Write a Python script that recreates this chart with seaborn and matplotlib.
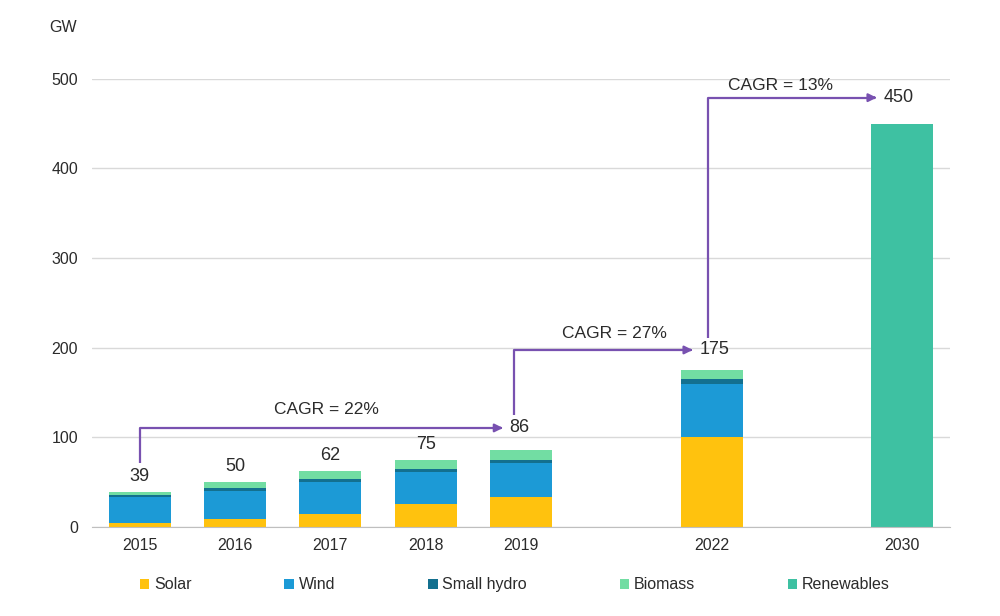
import pandas as pd
import matplotlib.pyplot as plt
import seaborn as sns

# Installed capacity, GW
years = ["2015", "2016", "2017", "2018", "2019", "2022"]
solar = [4, 9, 15, 26, 34, 100]
wind = [29, 31, 35, 35, 37, 60]
small_hydro = [3, 4, 4, 4, 4, 5]
biomass = [3, 6, 8, 10, 11, 10]
totals = [39, 50, 62, 75, 86, 175]
target_year = "2030"
target_value = 450
cagr_labels = ["CAGR = 22%", "CAGR = 27%", "CAGR = 13%"]

order = ["2015", "2016", "2017", "2018", "2019", "gap1", "2022", "gap2", "2030"]

sns.set_style("white")
plt.rcParams["font.family"] = ["Liberation Sans", "DejaVu Sans"]
text_col = "#2b2b2b"

df = pd.DataFrame({"year": years, "solar": solar, "wind": wind,
                   "hydro": small_hydro, "biomass": biomass})
df["c_solar"] = df["solar"]
df["c_wind"] = df["c_solar"] + df["wind"]
df["c_hydro"] = df["c_wind"] + df["hydro"]
df["c_bio"] = df["c_hydro"] + df["biomass"]
target_df = pd.DataFrame({"year": [target_year], "value": [target_value]})

colors = {"Solar": "#FFC20E", "Wind": "#1C9AD6", "Small hydro": "#13708F",
          "Biomass": "#72DDA3", "Renewables": "#3EC1A2"}

fig = plt.figure(figsize=(10, 6.16), dpi=100)
ax = fig.add_axes([0.092, 0.1445, 0.858, 0.7275])

# stacked bars drawn as overlapping cumulative totals
layers = [("c_bio", "Biomass"), ("c_hydro", "Small hydro"),
          ("c_wind", "Wind"), ("c_solar", "Solar")]
for col, name in layers:
    sns.barplot(data=df, x="year", y=col, order=order, color=colors[name],
                width=0.65, saturation=1, linewidth=0, edgecolor="none",
                ax=ax, label=name)
sns.barplot(data=target_df, x="year", y="value", order=order,
            color=colors["Renewables"], width=0.65, saturation=1,
            linewidth=0, edgecolor="none", ax=ax, label="Renewables")

ax.set_ylim(0, 500)
ax.set_xlim(-0.5, 8.5)
ax.set_yticks(range(0, 501, 100))
ax.set_xticks([0, 1, 2, 3, 4, 6, 8])
ax.set_xticklabels(years[:5] + ["2022", "2030"])
ax.set_xticks([i + 0.5 for i in range(-1, 9)], minor=True)
ax.set_xlabel("")
ax.set_ylabel("")
ax.tick_params(axis="x", which="major", length=0, pad=8, labelsize=11.5, colors=text_col)
ax.tick_params(axis="x", which="minor", length=5, color="#BFBFBF", direction="out")
ax.tick_params(axis="y", length=0, pad=10, labelsize=11.5, colors=text_col)
ax.yaxis.grid(True, color="#D9D9D9", linewidth=1)
ax.set_axisbelow(True)
for s in ["top", "right", "left"]:
    ax.spines[s].set_visible(False)
ax.spines["bottom"].set_color("#BFBFBF")
fig.text(0.063, 0.955, "GW", fontsize=11.5, color=text_col, ha="center", va="center")

# total labels
for i, t in enumerate(totals[:4]):
    ax.annotate(str(t), (i, t), xytext=(0, 5), textcoords="offset points",
                ha="center", va="bottom", fontsize=13, color=text_col)

# CAGR arrows
purple = "#7851B0"
arrows = [((0, 71), 110.5, 3.84, "86"),
          ((3.93, 125), 197.5, 5.83, "175"),
          ((5.96, 211), 479, 7.76, "450")]
for (x0, y0), yh, x1, lab in arrows:
    ax.plot([x0, x0, x1 - 0.05], [y0, yh, yh], color=purple, lw=1.6,
            solid_capstyle="butt", clip_on=False)
    ax.annotate("", xy=(x1, yh), xytext=(x1 - 0.1, yh),
                arrowprops=dict(arrowstyle="-|>", color=purple, lw=1.6,
                                mutation_scale=12), annotation_clip=False)
    ax.text(x1 + 0.04, yh, lab, ha="left", va="center", fontsize=13, color=text_col)

cagr_pos = [(1.96, 131), (4.98, 216), (6.72, 493)]
for (x, y), lab in zip(cagr_pos, cagr_labels):
    ax.text(x, y, lab, ha="center", va="center", fontsize=12.5, color=text_col)

# legend in fixed order
handles, labels = ax.get_legend_handles_labels()
hmap = dict(zip(labels, handles))
names = ["Solar", "Wind", "Small hydro", "Biomass", "Renewables"]
ax.legend([hmap[n] for n in names], names, loc="upper center",
          bbox_to_anchor=(0.493, -0.08), ncol=5, frameon=False, fontsize=11.5,
          handlelength=0.6, handleheight=0.6, handletextpad=0.3,
          columnspacing=5.8, labelcolor=text_col)

fig.savefig("out.png", dpi=100)
